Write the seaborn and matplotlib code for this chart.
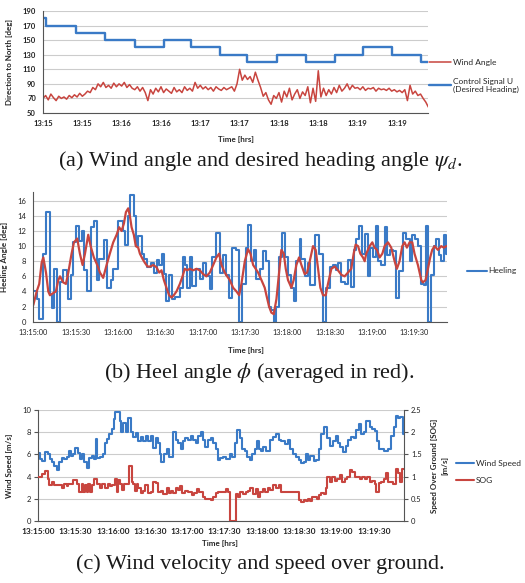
import numpy as np
import seaborn as sns

import matplotlib
matplotlib.use('Agg')
from matplotlib import pyplot as plt

# ---- (a) wind angle / desired heading, time in s after 13:15:00
heading_t = [0, 2.6, 25.0, 47.3, 70.0, 92.0, 113.0, 135.0, 155.7, 178.6,
             200.5, 222.7, 244.0, 266.0, 288.0, 293.7]
heading_deg = [180, 170, 160, 150, 140, 150, 140, 130, 120, 130,
               120, 130, 140, 130, 120, 120]

# wind angle sampled every 2 s
wind_angle_deg = [70, 74, 68, 76, 71, 67, 73, 70, 72, 69, 74, 71,
                  75, 72, 77, 73,
                  76, 80, 78, 85, 82, 90,
                  86, 92, 85,
                  88, 84, 91, 86, 90, 87, 92, 85, 89,
                  84, 82, 86, 80, 85, 78,
                  67,
                  82, 76, 84, 79, 86, 78, 83, 80, 77, 85, 79, 82, 78, 86, 81, 84, 80,
                  92, 84, 88, 83, 86,
                  82, 85, 80, 86, 83, 81, 85, 82, 84,
                  86, 80, 90,
                  110, 95, 102, 96,
                  100, 92, 106, 95,
                  85, 73, 78,
                  68, 62, 74, 70,
                  78, 65, 80, 72, 84, 68, 76, 82, 70, 79, 74,
                  86, 64, 84, 66,
                  108,
                  72, 84, 74, 82, 76,
                  85, 78, 88, 80, 84,
                  90, 82, 88, 84,
                  85, 82, 86, 81, 84, 83, 85, 80, 84, 82, 83, 81, 84, 80, 82, 79, 81,
                  78, 82, 67, 88, 76, 80,
                  74, 76, 70, 65, 58]
wind_angle_t = np.arange(len(wind_angle_deg)) * 2

a_ticks = [0, 30, 60, 90, 120, 150, 180, 210, 240, 270]
a_labels = ['13:15', '13:15', '13:16', '13:16', '13:17', '13:17',
            '13:18', '13:18', '13:19', '13:19']

# ---- (b) heeling angle (steps) and its running average
heel_t = [0, 2.4, 4.2, 6.6, 8.7, 11.8, 13.2, 14.9, 17.0, 18.9,
          21.2, 23.6, 24.8, 26.7, 28.3, 30.2, 32.3, 34.2, 35.8, 38.2,
          40.6, 42.9, 44.8, 46.7, 50.0, 52.4, 55.0, 56.6, 60.1, 63.2,
          64.9, 67.0, 68.4, 71.2, 72.6, 74.3, 76.7, 78.3, 80.2, 83.7,
          85.4, 87.3, 89.2, 90.8, 92.5, 94.3, 96.2, 97.9, 100.2, 103.8,
          105.7, 107.3, 109.2, 110.8, 112.7, 115.1, 117.9, 120.3, 122.6, 125.0,
          126.9, 129.7, 132.1, 134.0, 136.8, 138.7, 141.0, 143.9, 145.8, 148.1,
          150.9, 152.1, 154.5, 156.1, 158.0, 160.4, 162.7, 165.1, 167.0, 168.6,
          170.3, 172.2, 174.1, 176.4, 178.1, 180.4, 182.8, 184.7, 186.3, 188.7,
          189.9, 192.2, 194.6, 196.2, 199.3, 202.4, 205.2, 207.5, 209.9, 212.3,
          214.2, 216.0, 218.2, 220.5, 222.9, 225.2, 227.1, 228.8, 230.7, 233.0,
          234.7, 237.0, 238.7, 240.6, 242.5, 244.1, 246.5, 248.8, 250.5, 252.4,
          254.7, 257.1, 258.9, 261.8, 264.2, 266.5, 268.4, 270.0, 272.4, 274.8,
          276.4, 277.8, 279.5, 281.8, 283.5, 285.4, 287.3, 288.9, 290.6, 292.0,
          293.0]
heel_deg = [4.0, 3.0, 0.4, 9.0, 14.5, 3.5, 1.8, 7.0, 0.0, 5.2,
            6.8, 6.0, 3.0, 6.2, 10.5, 12.7, 10.7, 12.0, 6.8, 4.0,
            12.5, 13.3, 5.5, 8.3, 10.8, 4.5, 5.5, 7.0, 13.3, 12.0,
            10.2, 14.0, 16.8, 14.0, 10.0, 11.3, 9.0, 8.3, 7.3, 7.8,
            6.5, 8.2, 7.5, 9.0, 6.3, 2.8, 6.2, 3.0, 3.3, 4.5,
            8.5, 7.5, 4.5, 8.5, 4.7, 7.0, 5.6, 7.8, 6.0, 4.3,
            8.5, 11.8, 6.5, 8.8, 6.2, 3.2, 9.7, 9.5, 0.0, 5.0,
            9.7, 12.8, 8.0, 9.5, 5.7, 7.0, 9.3, 8.0, 2.0, 1.5,
            0.0, 2.0, 8.5, 11.8, 8.5, 6.2, 4.5, 2.8, 8.0, 11.0,
            8.3, 6.0, 7.8, 4.8, 11.5, 9.0, 0.0, 4.5, 7.3, 7.5,
            6.8, 7.8, 5.3, 5.0, 8.2, 4.6, 9.5, 11.0, 12.7, 9.0,
            11.6, 6.0, 9.8, 8.5, 12.6, 8.0, 7.5, 12.5, 8.8, 9.5,
            9.3, 3.2, 6.7, 11.8, 11.0, 8.0, 11.5, 11.0, 10.0, 5.0,
            4.8, 12.6, 0.0, 6.2, 10.0, 11.0, 8.8, 8.0, 11.5, 9.0,
            9.0]

heel_avg_t = [0, 2.4, 4.2, 5.9, 7.1, 9.0, 10.6, 11.8, 14.2, 16.0,
              17.7, 18.9, 21.2, 23.1, 24.8, 27.1, 28.8, 31.1, 33.0, 34.9,
              36.6, 38.9, 40.6, 42.9, 45.3, 47.2, 49.5, 51.9, 54.2, 56.6,
              59.0, 60.8, 62.5, 64.2, 65.6, 67.2, 68.4, 69.6, 71.2, 72.6,
              74.3, 75.5, 77.4, 79.0, 80.9, 83.0, 84.9, 87.3, 89.2, 90.8,
              92.5, 94.3, 96.2, 97.9, 99.5, 101.4, 103.8, 105.7, 107.3, 109.0,
              110.8, 113.2, 115.6, 117.9, 120.3, 122.6, 125.0, 127.4, 129.7, 131.6,
              133.3, 135.6, 137.3, 139.2, 141.5, 143.9, 145.8, 147.4, 149.8, 152.1,
              153.8, 155.7, 157.5, 159.2, 161.6, 163.9, 165.1, 167.0, 168.6, 170.3,
              172.2, 174.1, 175.7, 177.4, 178.8, 180.4, 182.8, 184.4, 186.3, 188.2,
              189.9, 192.2, 193.9, 195.8, 198.1, 200.0, 201.7, 203.3, 205.2, 207.1,
              208.7, 211.1, 213.4, 215.8, 218.2, 220.5, 222.9, 225.2, 226.9, 228.3,
              230.0, 231.6, 233.5, 234.7, 235.8, 238.2, 240.1, 241.7, 243.4, 245.3,
              247.2, 248.8, 251.2, 253.5, 255.9, 257.5, 259.4, 261.3, 263.0, 264.6,
              266.5, 268.4, 270.0, 272.4, 274.8, 275.9, 277.8, 279.5, 281.1, 282.5,
              284.2, 286.6, 288.9, 290.8, 292.5]
heel_avg_deg = [2.2, 4, 5, 7.8, 8.5, 6.5, 4, 3.5, 3.8, 4,
                5.5, 6, 5.2, 5, 6.5, 9, 10.5, 11, 9, 7.5,
                9, 11.5, 10, 8.5, 7.5, 6.5, 5.8, 7.5, 9, 10.5,
                11.5, 12.5, 12, 13, 14.5, 15, 14, 12.5, 11.5, 10,
                9.8, 9, 8.3, 7.8, 7.3, 7.3, 7.5, 7.2, 6.5, 6.8,
                5.5, 4.5, 3.5, 3.2, 3.5, 4, 5, 6, 7, 6.8,
                7, 6.8, 7, 6.8, 6.3, 6, 6.5, 7.5, 8.5, 9,
                7.5, 6.5, 6, 5.5, 4.5, 4, 3.5, 5, 8, 9.6,
                9, 7.5, 7, 6.5, 5.5, 4.5, 3.5, 2, 1.2, 1,
                3, 6.5, 9.5, 9, 7, 5.5, 4.5, 5.5, 7.5, 8.5,
                7.5, 6.3, 6.5, 8, 10, 9.5, 7, 4.5, 3.5, 3.5,
                5, 7, 7.3, 6.8, 6.2, 6, 6.5, 7, 9, 10.2,
                10, 9, 8.5, 8, 9, 10, 10.5, 9.8, 9.5, 8.5,
                9, 10, 10.5, 9.8, 8, 7, 8, 10, 10.5, 9.8,
                10.5, 10.5, 9, 7.5, 5.5, 5.2, 5.5, 7, 8.5, 9.5,
                10, 9.5, 10, 9.8, 10]

hms_ticks = [0, 30, 60, 90, 120, 150, 180, 210, 240, 270]
hms_labels = ['13:15:00', '13:15:30', '13:16:00', '13:16:30', '13:17:00',
              '13:17:30', '13:18:00', '13:18:30', '13:19:00', '13:19:30']

# ---- (c) wind speed [m/s] and speed over ground [m/s] (steps)
ws_t = [0, 1.4, 3.3, 5.4, 8.1, 9.4, 11.3, 12.9, 14.8, 16.7,
        18.8, 21.0, 22.8, 24.7, 26.3, 28.2, 29.5, 31.7, 33.5, 34.9,
        37.0, 38.9, 40.8, 42.9, 45.1, 46.1, 47.0, 49.6, 52.3, 53.6,
        55.0, 56.9, 59.0, 60.6, 61.7, 65.7, 66.5, 68.4, 70.3, 72.4,
        74.3, 76.4, 78.3, 80.5, 82.6, 84.5, 86.4, 88.5, 90.4, 92.5,
        94.4, 96.0, 97.9, 98.7, 101.4, 103.3, 105.1, 108.6, 110.5, 112.6,
        114.5, 116.7, 118.5, 120.7, 122.8, 124.7, 126.6, 128.7, 130.9, 132.7,
        134.6, 136.8, 138.9, 140.8, 142.7, 144.3,
        146.1, 148.8, 151.5, 154.1, 156.3, 158.2, 160.0, 162.7, 164.3, 166.2,
        168.1, 170.2, 172.4, 174.3, 176.1, 177.7, 179.6, 181.0, 183.6, 186.9,
        189.0, 191.7, 193.8, 195.7, 198.4, 201.1, 202.9, 205.1, 207.2, 209.9,
        211.8, 213.7, 215.3, 217.1, 219.0, 221.7, 223.8, 226.0, 227.9, 229.7,
        232.4, 234.6, 237.3, 239.4, 241.3, 243.2, 245.3, 247.4, 249.3, 252.0,
        253.9, 256.0, 258.2, 260.0, 261.9, 264.1, 266.7, 268.9, 270.8, 272.6,
        274.3, 276.1, 278.0, 279.6, 281.5, 284.2, 286.0, 287.7, 289.5, 291.4,
        293.6, 294.4]
ws_ms = [6.1, 5.6, 5.4, 6.2, 6.0, 5.6, 5.3, 5.0, 4.6, 5.3,
         5.7, 5.6, 5.8, 6.3, 5.9, 6.0, 6.6, 6.1, 5.6, 6.0,
         5.3, 4.8, 5.7, 5.9, 5.6, 7.4, 5.7, 5.8, 6.0, 7.0,
         7.4, 7.8, 8.3, 9.2, 9.8, 9.0, 8.0, 8.8, 8.0, 9.3,
         8.0, 7.6, 7.9, 7.2, 7.6, 7.2, 7.7, 7.2, 7.7, 6.6,
         7.5, 7.0, 6.0, 5.3, 6.0, 6.5, 5.8, 8.0, 7.3, 7.0,
         6.5, 7.2, 7.5, 7.3, 7.7, 7.3, 7.0, 7.7, 8.0, 7.3,
         6.7, 7.3, 7.5, 7.0, 6.5, 5.5,
         5.7, 5.8, 5.6, 6.0, 5.8, 7.0, 8.2, 7.5, 6.5, 6.3,
         5.8, 5.5, 6.0, 6.5, 7.2, 6.5, 6.3, 6.7, 6.3, 7.3,
         7.6, 7.8, 7.3, 7.2, 6.9, 7.3, 6.5, 6.0, 5.8, 5.5,
         5.2, 5.3, 6.0, 5.5, 5.9, 5.4, 5.5, 6.5, 7.8, 8.5,
         7.5, 6.8, 7.2, 7.7, 7.0, 6.7, 6.2, 6.8, 7.3, 7.6,
         7.5, 8.2, 8.7, 7.8, 8.0, 9.0, 8.5, 8.3, 8.1, 7.2,
         6.5, 6.5, 6.3, 6.3, 6.5, 7.7, 8.5, 9.5, 9.3, 9.4,
         7.8, 7.8]

sog_t = [0, 3.3, 5.4, 7.5, 8.6, 10.8, 12.9, 16.7, 18.8, 21.0,
         22.8, 24.2, 26.3, 28.2, 30.9, 32.7, 34.9, 36.2, 37.6, 38.9,
         40.2, 41.6, 42.9, 45.1, 47.0, 49.6, 51.0, 53.6, 55.8, 57.7,
         59.5, 61.7, 63.0, 64.4, 65.7, 67.6, 69.2, 71.9, 73.0, 75.1,
         76.4, 77.8, 79.1, 80.5, 82.6, 84.5, 85.8, 88.5, 90.6, 92.5,
         94.4, 96.5, 98.7, 100.6, 103.3, 105.1, 106.7, 108.6, 110.5, 112.6,
         114.0, 115.8, 118.0, 120.7, 123.4, 125.5, 127.4, 129.3, 130.9, 132.7,
         134.6, 136.8, 138.9, 140.8, 142.7, 144.3,
         146.1, 148.8, 151.5, 152.8, 154.7, 159.0, 160.8, 162.7, 164.9, 167.0,
         168.9, 170.8, 172.9, 175.1, 176.9, 178.8, 181.0, 182.8, 185.0, 186.9,
         189.0, 191.7, 193.8, 195.7, 209.9, 211.8, 213.7, 215.3, 217.1, 219.0,
         220.6, 222.5, 224.4, 226.0, 227.9, 229.7, 231.4, 232.4, 234.6, 236.7,
         238.6, 240.5, 242.6, 244.8, 246.6, 248.5, 250.7, 252.8, 254.7, 256.6,
         258.7, 260.9, 262.7, 264.6, 266.7, 268.9, 270.8, 272.1, 274.3, 276.1,
         278.0, 279.6, 281.5, 283.4, 285.5, 287.7, 289.5, 291.4, 293.0, 294.4]
sog_ms = [1.00, 1.05, 1.13, 0.95, 0.80, 0.88, 0.80, 0.80, 0.75, 0.83,
          0.78, 0.83, 0.83, 0.93, 0.83, 0.65, 0.83, 0.65, 0.80, 0.65,
          0.83, 0.65, 0.80, 0.95, 0.83, 0.75, 0.83, 0.75, 0.83, 0.78,
          0.80, 0.95, 0.65, 0.93, 0.83, 0.70, 0.83, 0.83, 1.23, 0.88,
          0.83, 0.68, 0.83, 0.75, 0.63, 0.68, 0.80, 0.63, 0.65, 0.88,
          0.85, 0.65, 0.68, 0.60, 0.75, 0.63, 0.68, 0.63, 0.75, 0.70,
          0.78, 0.63, 0.68, 0.65, 0.58, 0.63, 0.73, 0.65, 0.65, 0.55,
          0.50, 0.50, 0.48, 0.53, 0.63, 0.65,
          0.65, 0.65, 0.73, 0.65, 0.00, 0.60, 0.53, 0.65, 0.60, 0.65,
          0.68, 0.75, 0.60, 0.73, 0.55, 0.65, 0.73, 0.65, 0.75, 0.70,
          0.80, 0.75, 0.80, 0.65, 0.48, 0.43, 0.48, 0.45, 0.50, 0.45,
          0.53, 0.55, 0.50, 0.58, 0.63, 0.60, 0.75, 1.00, 0.88, 1.00,
          0.90, 0.95, 1.03, 0.88, 0.95, 0.98, 1.15, 1.10, 0.98, 1.00,
          0.95, 1.00, 0.95, 0.98, 0.88, 0.90, 0.83, 0.65, 0.85, 0.88,
          0.95, 1.08, 0.88, 0.88, 0.83, 1.18, 1.08, 0.88, 1.18, 1.18]

BLUE = '#3A7AC6'
RED = '#C8453F'
GRID = '#cccccc'
AXC = '#555555'

sns.set_style('white')
plt.rcParams['font.family'] = ['Lato', 'DejaVu Sans']
plt.rcParams['mathtext.fontset'] = 'stix'

W, H = 525, 583
fig = plt.figure(figsize=(W / 100, H / 100), dpi=100)


def box(l, t, r, b):
    return [l / W, 1 - b / H, (r - l) / W, (b - t) / H]


def style_axes(ax, yticks):
    ax.set_yticks(yticks)
    ax.yaxis.grid(True, color=GRID, lw=0.8)
    ax.xaxis.grid(False)
    for s in ['top', 'right']:
        ax.spines[s].set_visible(False)
    for s in ['left', 'bottom']:
        ax.spines[s].set_color(AXC)
        ax.spines[s].set_linewidth(0.8)
    ax.tick_params(axis='both', direction='out', length=3, width=0.8,
                   color=AXC, labelcolor='#222222', pad=2)
    ax.tick_params(axis='y', labelsize=5.5)
    ax.set_axisbelow(True)


# ---------------- (a)
ax_a = fig.add_axes(box(43, 11, 428, 113))
sns.lineplot(x=wind_angle_t, y=wind_angle_deg, ax=ax_a, color=RED, lw=1.1,
             label='Wind Angle')
sns.lineplot(x=heading_t, y=heading_deg, ax=ax_a, color=BLUE, lw=1.7,
             drawstyle='steps-post', label='Control Signal U\n(Desired Heading)')
ax_a.set_xlim(0, 293.7)
ax_a.set_ylim(50, 190)
style_axes(ax_a, range(50, 191, 20))
ax_a.set_xticks(a_ticks)
ax_a.set_xticklabels(a_labels, fontsize=5.5, fontweight='bold')
ax_a.set_yticklabels([str(v) for v in range(50, 191, 20)], fontweight='bold')
ax_a.set_ylabel('Direction to North [deg]', fontsize=5.8, fontweight='bold')
ax_a.set_xlabel('Time [hrs]', fontsize=5.8, fontweight='bold')
ax_a.yaxis.set_label_coords(-0.078, 0.5)
ax_a.xaxis.set_label_coords(0.501, -0.225)
ax_a.legend(loc='center left', bbox_to_anchor=(429 / W, 1 - 76 / H),
            bbox_transform=fig.transFigure, frameon=False, fontsize=6,
            handlelength=2.6, handletextpad=0.3, labelspacing=1.4,
            borderpad=0, borderaxespad=0)

# ---------------- (b)
ax_b = fig.add_axes(box(33.3, 191.7, 447, 321.7))
sns.lineplot(x=heel_t, y=heel_deg, ax=ax_b, color=BLUE, lw=1.5,
             drawstyle='steps-post', label='Heeling')
sns.lineplot(x=heel_avg_t, y=heel_avg_deg, ax=ax_b, color=RED, lw=1.6)
ax_b.set_xlim(0, 293)
ax_b.set_ylim(0, 17.2)
style_axes(ax_b, range(0, 17, 2))
ax_b.set_xticks(hms_ticks)
ax_b.set_xticklabels(hms_labels, fontsize=5.3)
ax_b.set_ylabel('Heeling Angle [deg]', fontsize=5.8, fontweight='bold')
ax_b.set_xlabel('Time [hrs]', fontsize=5.8, fontweight='bold')
ax_b.yaxis.set_label_coords(-0.061, 0.5)
ax_b.xaxis.set_label_coords(0.513, -0.195)
ax_b.legend(loc='center left', bbox_to_anchor=(467 / W, 1 - 271 / H),
            bbox_transform=fig.transFigure, frameon=False, fontsize=6,
            handlelength=2.4, handletextpad=0.2, borderpad=0, borderaxespad=0)

# ---------------- (c)
ax_c = fig.add_axes(box(38.3, 410, 404, 521))
sns.lineplot(x=ws_t, y=ws_ms, ax=ax_c, color=BLUE, lw=1.5,
             drawstyle='steps-post', label='Wind Speed')
ax_c.set_xlim(0, 294.4)
ax_c.set_ylim(0, 10)
style_axes(ax_c, range(0, 11, 2))
ax_c.set_xticks(hms_ticks)
ax_c.set_xticklabels(hms_labels, fontsize=6, fontweight='bold')
ax_c.set_ylabel('Wind Speed [m/s]', fontsize=5.8, fontweight='bold')
ax_c.set_xlabel('Time [hrs]', fontsize=5.8, fontweight='bold')
ax_c.yaxis.set_label_coords(-0.07, 0.5)
ax_c.xaxis.set_label_coords(0.497, -0.175)

ax_c2 = ax_c.twinx()
sns.lineplot(x=sog_t, y=sog_ms, ax=ax_c2, color=RED, lw=1.5,
             drawstyle='steps-post', label='SOG')
ax_c2.set_ylim(0, 2.5)
ax_c2.set_yticks([0, 0.5, 1, 1.5, 2, 2.5])
ax_c2.set_yticklabels(['0', '0.5', '1', '1.5', '2', '2.5'])
ax_c2.grid(False)
for s in ['top', 'left', 'bottom']:
    ax_c2.spines[s].set_visible(False)
ax_c2.spines['right'].set_visible(True)
ax_c2.spines['right'].set_color(AXC)
ax_c2.spines['right'].set_linewidth(0.8)
ax_c2.tick_params(axis='y', direction='out', length=3, width=0.8, color=AXC,
                  labelcolor='#222222', labelsize=5.5, pad=2)
ax_c2.set_ylabel('Speed Over Ground [SOG]\n[m/s]', fontsize=5.8,
                 fontweight='bold', rotation=90, linespacing=1.6)
ax_c2.yaxis.set_label_coords(1.074, 0.5)

h1, l1 = ax_c.get_legend_handles_labels()
h2, l2 = ax_c2.get_legend_handles_labels()
ax_c2.get_legend().remove()
ax_c.legend(h1 + h2, l1 + l2, loc='center left',
            bbox_to_anchor=(456 / W, 1 - 472 / H), bbox_transform=fig.transFigure,
            frameon=False, fontsize=6, handlelength=2.2, handletextpad=0.2,
            labelspacing=1.2, borderpad=0, borderaxespad=0)

# ---------------- captions
cap = dict(ha='center', va='center', fontsize=16, family='Liberation Serif',
           color='#1a1a1a')
fig.text(260 / W, 1 - 161 / H, r'(a) Wind angle and desired heading angle $\psi_d$.', **cap)
fig.text(259 / W, 1 - 373 / H, r'(b) Heel angle $\phi$ (averaged in red).', **cap)
fig.text(260 / W, 1 - 564 / H, '(c) Wind velocity and speed over ground.', **cap)

fig.savefig('out.png', dpi=100)
